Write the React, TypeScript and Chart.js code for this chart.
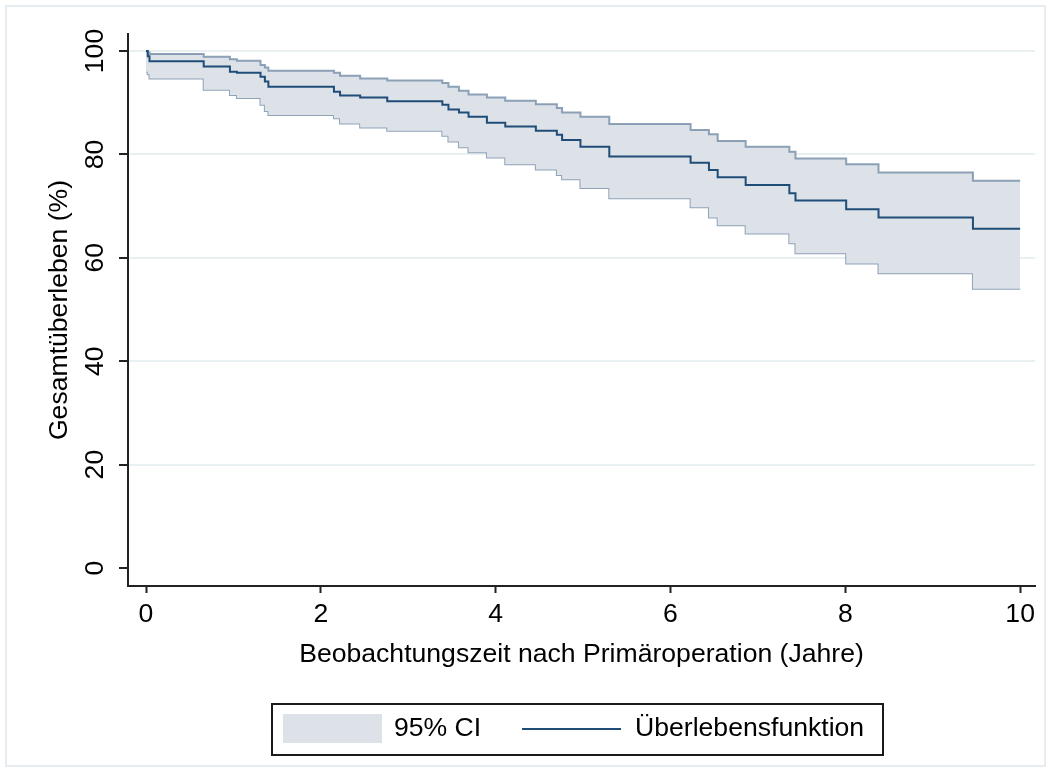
import React, { useEffect, useRef } from "react";
import { Chart, registerables } from "chart.js";

Chart.register(...registerables);

// ---- data (Kaplan-Meier estimate with 95% CI) ----
const TIMES = [0, 0.02, 0.04, 0.66, 0.96, 1.04, 1.31, 1.36, 1.4, 2.15, 2.22, 2.45, 2.76, 3.39, 3.46, 3.58, 3.69, 3.9, 4.11, 4.46, 4.7, 4.76, 4.97, 5.3, 6.23, 6.44, 6.54, 6.86, 7.36, 7.43, 8.01, 8.38, 9.46, 10.0];
const SURVIVAL = [100, 99, 98, 97.0, 96.0, 95.8, 95.0, 94.1, 93.1, 92.1, 91.4, 91.0, 90.3, 89.6, 88.7, 88.1, 87.3, 86.1, 85.4, 84.6, 83.8, 82.8, 81.5, 79.6, 78.4, 77.0, 75.6, 74.1, 72.5, 71.1, 69.4, 67.8, 65.6, 65.6];
const CI_UPPER = [100, 99.7, 99.4, 98.9, 98.4, 98.1, 97.3, 96.8, 96.2, 95.8, 95.2, 94.7, 94.3, 93.8, 93.1, 92.3, 91.6, 91.0, 90.4, 89.7, 89.0, 88.1, 87.3, 85.9, 84.7, 83.9, 82.6, 81.5, 80.5, 79.2, 78.1, 76.5, 74.9, 74.9];
const CI_LOWER = [96.0, 95.5, 94.7, 92.5, 91.5, 90.9, 89.6, 88.4, 87.6, 87.0, 86.0, 85.2, 84.6, 83.6, 82.5, 81.4, 80.4, 79.4, 78.1, 77.1, 76.0, 75.2, 73.5, 71.5, 69.8, 67.8, 66.3, 64.7, 62.8, 60.9, 58.9, 57.0, 54.0, 54.0];

const X_TICKS = [0, 2, 4, 6, 8, 10];
const Y_TICKS = [0, 20, 40, 60, 80, 100];
const X_TITLE = "Beobachtungszeit nach Primäroperation (Jahre)";
const Y_TITLE = "Gesamtüberleben (%)";
const LEGEND_LABELS = ["95% CI", "Überlebensfunktion"];

// ---- styles ----
const FONT_FAMILY = '"Liberation Sans", Arial, sans-serif';
const FONT_SIZE = 26.6;
const SURV_COLOR = "#1f4d78";
const CI_LINE_COLOR = "rgba(115,140,166,0.8)";
const CI_FILL = "#dde2e9";
const GRID_COLOR = "#e8f0f2";
const AXIS_COLOR = "#222222";
const FRAME_COLOR = "#e6ecf0";

const toPoints = (vals: number[]) => vals.map((v, i) => ({ x: TIMES[i], y: v }));

const framePlugin = {
  id: "frame",
  beforeDraw(chart: any) {
    const { ctx, width, height } = chart;
    ctx.save();
    ctx.fillStyle = "#ffffff";
    ctx.fillRect(0, 0, width, height);
    ctx.strokeStyle = FRAME_COLOR;
    ctx.lineWidth = 2;
    ctx.strokeRect(6, 6, width - 12, height - 12);
    ctx.restore();
  },
};

const legendPlugin = {
  id: "kmLegend",
  afterDraw(chart: any) {
    const ctx = chart.ctx;
    ctx.save();
    ctx.strokeStyle = "#1a1a1a";
    ctx.lineWidth = 2;
    ctx.strokeRect(272, 704, 611, 51);
    ctx.fillStyle = CI_FILL;
    ctx.fillRect(283, 714, 99, 29);
    ctx.font = `${FONT_SIZE}px ${FONT_FAMILY}`;
    ctx.fillStyle = "#000000";
    ctx.textBaseline = "middle";
    ctx.textAlign = "left";
    ctx.fillText(LEGEND_LABELS[0], 394, 729);
    ctx.strokeStyle = SURV_COLOR;
    ctx.lineWidth = 2;
    ctx.beginPath();
    ctx.moveTo(522, 729);
    ctx.lineTo(621, 729);
    ctx.stroke();
    ctx.fillText(LEGEND_LABELS[1], 635, 729);
    ctx.restore();
  },
};

export default function App() {
  const canvasRef = useRef<HTMLCanvasElement | null>(null);

  useEffect(() => {
    if (!canvasRef.current) return;
    const font = { family: FONT_FAMILY, size: FONT_SIZE };
    const chart = new Chart(canvasRef.current, {
      type: "line",
      data: {
        datasets: [
          {
            label: LEGEND_LABELS[1],
            data: toPoints(SURVIVAL),
            borderColor: SURV_COLOR,
            borderWidth: 2,
            stepped: "before",
            pointRadius: 0,
            fill: false,
          },
          {
            label: "upper",
            data: toPoints(CI_UPPER),
            borderColor: CI_LINE_COLOR,
            borderWidth: 2,
            stepped: "before",
            pointRadius: 0,
            backgroundColor: CI_FILL,
            fill: "+1",
          },
          {
            label: "lower",
            data: toPoints(CI_LOWER),
            borderColor: CI_LINE_COLOR,
            borderWidth: 2,
            stepped: "before",
            pointRadius: 0,
            fill: false,
          },
        ],
      },
      options: {
        responsive: false,
        animation: false,
        devicePixelRatio: 1,
        layout: { padding: { left: 0, top: 34, right: 16, bottom: 96 } },
        plugins: {
          legend: { display: false },
          tooltip: { enabled: false },
          title: { display: false },
        },
        scales: {
          x: {
            type: "linear",
            min: -0.206,
            max: 10.17,
            afterFit: (s: any) => {
              s.height = 90;
            },
            afterBuildTicks: (s: any) => {
              s.ticks = X_TICKS.map((v) => ({ value: v }));
            },
            grid: {
              drawOnChartArea: false,
              tickLength: 7,
              tickColor: AXIS_COLOR,
              tickWidth: 2,
            },
            border: { color: AXIS_COLOR, width: 2 },
            ticks: { font, color: "#000", padding: 6, maxRotation: 0, autoSkip: false },
            title: {
              display: true,
              text: X_TITLE,
              font,
              color: "#000",
              padding: { top: 0, bottom: 5 },
            },
          },
          y: {
            type: "linear",
            min: -3.48,
            max: 103.29,
            afterFit: (s: any) => {
              s.width = 128;
            },
            afterBuildTicks: (s: any) => {
              s.ticks = Y_TICKS.map((v) => ({ value: v }));
            },
            grid: {
              color: (c: any) => (c.tick && c.tick.value === 0 ? "rgba(0,0,0,0)" : GRID_COLOR),
              lineWidth: 2,
              tickLength: 9,
              tickColor: AXIS_COLOR,
              tickWidth: 2,
            },
            border: { color: AXIS_COLOR, width: 2 },
            ticks: {
              font,
              color: "#000",
              minRotation: 90,
              maxRotation: 90,
              crossAlign: "center",
              padding: 1,
              autoSkip: false,
            },
            title: {
              display: true,
              text: Y_TITLE,
              font,
              color: "#000",
              padding: { top: 44, bottom: 0 },
            },
          },
        },
      },
      plugins: [framePlugin, legendPlugin],
    } as any);
    return () => chart.destroy();
  }, []);

  return (
    <div style={{ position: "absolute", left: 0, top: 0, width: 1051, height: 772, background: "#fff" }}>
      <canvas ref={canvasRef} width={1051} height={772} />
    </div>
  );
}
